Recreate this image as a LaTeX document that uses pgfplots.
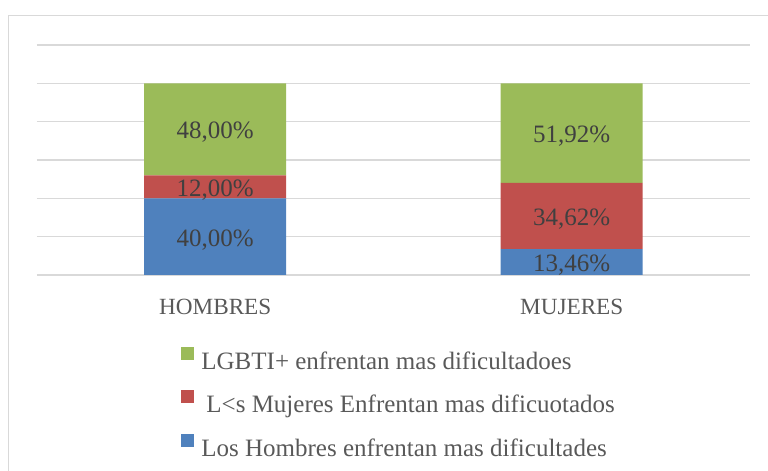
\documentclass[border=0pt]{standalone}
\usepackage{fontspec}
\setmainfont{Liberation Serif}
\usepackage{pgfplots}
\pgfplotsset{compat=1.18}

\definecolor{hbBlue}{HTML}{4F81BD}
\definecolor{mjRed}{HTML}{C0504D}
\definecolor{lgGreen}{HTML}{9BBB59}
\definecolor{gridgray}{HTML}{D9D9D9}
\definecolor{labgray}{HTML}{595959}
\definecolor{valgray}{HTML}{404040}

% valores en %
\pgfplotstableread{
x y
0 40.00
1 13.46
}\hombres
\pgfplotstableread{
x y
0 12.00
1 34.62
}\mujeres
\pgfplotstableread{
x y
0 48.00
1 51.92
}\lgbti

\begin{document}
\begin{tikzpicture}[font=\fontsize{12.5}{15}\selectfont]
\useasboundingbox (0,0) rectangle (384pt,235.5pt);
\begin{scope}
  \clip (0,0) rectangle (384pt,235.5pt);
  \draw[gridgray, line width=0.75pt] (4.25pt,-20pt) rectangle (420pt,227.75pt);
\end{scope}
\begin{axis}[
    at={(18.5pt,98pt)}, anchor=south west,
    width=356.5pt, height=115pt, scale only axis,
    ybar stacked, bar width=71pt,
    enlargelimits=false,
    xmin=-0.5, xmax=1.5, ymin=0, ymax=120,
    xtick={0,1}, xticklabels={HOMBRES,MUJERES},
    ytick={0,20,...,120}, yticklabels={},
    ymajorgrids, grid style={gridgray, line width=0.75pt},
    axis line style={draw=none}, major tick length=0pt,
    xticklabel style={text=labgray, anchor=base, yshift=-19.6pt,
      font=\fontsize{11.6}{14}\selectfont},
    point meta=explicit,
    nodes near coords={\pgfmathprintnumber[fixed,fixed zerofill,precision=2,use comma]{\pgfplotspointmeta}\%},
    every node near coord/.append style={anchor=center, text=valgray, yshift=-1.5pt},
    /pgf/number format/assume math mode=true,
    reverse legend,
    legend image code/.code={\fill[#1] (0pt,1.5pt) rectangle (6.5pt,8pt);},
    legend style={at={(axis description cs:0.202,-0.31)}, anchor=north west,
      draw=none, fill=none, legend cell align=left, inner sep=0pt,
      row sep=8pt, column sep=3.5pt,
      nodes={inner sep=0pt, text height=9pt, text depth=2.5pt, text=labgray}},
]
\addplot+[fill=hbBlue, draw=none] table[x=x, y=y, meta=y] {\hombres};
\addlegendentry{Los Hombres enfrentan mas dificultades}
\addplot+[fill=mjRed, draw=none] table[x=x, y=y, meta=y] {\mujeres};
\addlegendentry{\hspace*{2.5pt}L<s Mujeres Enfrentan mas dificuotados}
\addplot+[fill=lgGreen, draw=none] table[x=x, y=y, meta=y] {\lgbti};
\addlegendentry{LGBTI+ enfrentan mas dificultadoes}
\end{axis}
\end{tikzpicture}
\end{document}
